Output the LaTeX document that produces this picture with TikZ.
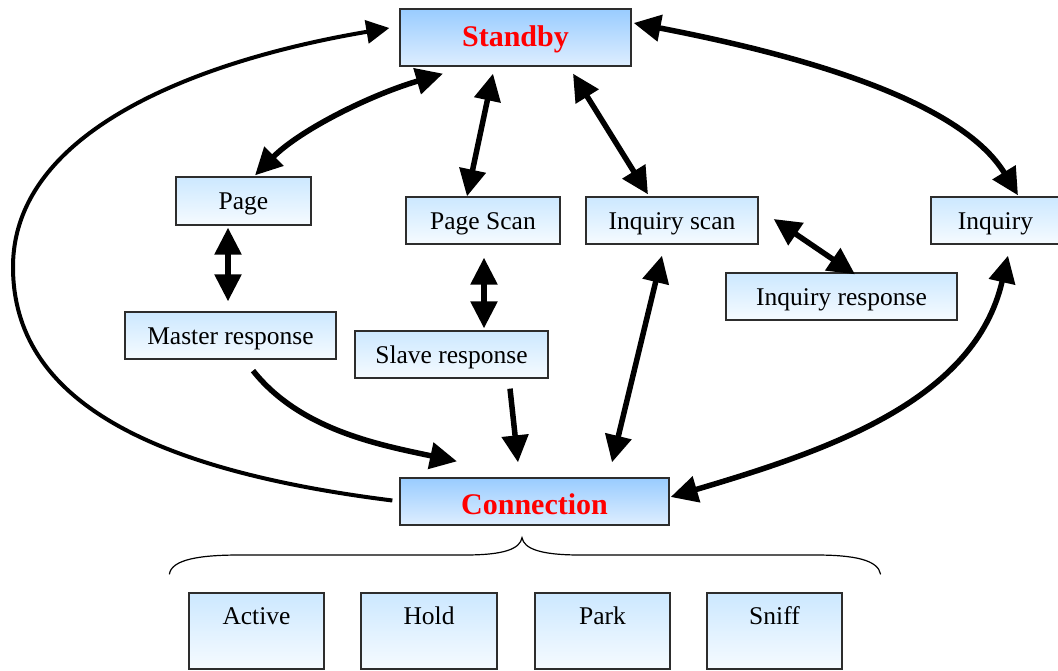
\documentclass[tikz,border=0pt]{standalone}
\usepackage{fontspec}
\setmainfont{Liberation Serif}
\usetikzlibrary{arrows.meta,calc}
\definecolor{hdtop}{RGB}{153,204,255}
\definecolor{hdbot}{RGB}{222,238,255}
\definecolor{sttop}{RGB}{204,232,255}
\definecolor{stbot}{RGB}{246,251,255}
\definecolor{edge}{RGB}{45,45,45}
\tikzset{
  statebox/.style={draw=edge, line width=1.3pt, top color=sttop, bottom color=stbot,
    inner sep=0pt, text height=18, text depth=0,
    font=\fontsize{25.5}{29}\selectfont},
  mainbox/.style={statebox, top color=hdtop, bottom color=hdbot, text height=20, text depth=2,
    font=\fontsize{30}{34}\selectfont\bfseries, text=red},
  modebox/.style={statebox, minimum height=76, text height=17, text depth=31},
  link/.style={line width=5.5pt, {Triangle[length=27pt,width=26pt]}-{Triangle[length=27pt,width=26pt]}},
  oneway/.style={line width=5.5pt, -{Triangle[length=27pt,width=26pt]}},
  brace/.style={line width=1.2pt}
}
\begin{document}
\begin{tikzpicture}[x=1pt,y=-1pt]
\useasboundingbox (0,0) rectangle (1058,671);

% states
\node[mainbox, minimum width=231, minimum height=57] (standby) at (515.5,37.5) {Standby};
\node[statebox, minimum width=135, minimum height=48] (page) at (243.5,201) {Page};
\node[statebox, minimum width=154, minimum height=47] (pagescan) at (483,220.5) {Page Scan};
\node[statebox, minimum width=172, minimum height=47] (inqscan) at (672,220.5) {Inquiry scan};
\node[statebox, minimum width=129, minimum height=47] (inquiry) at (995.5,220.5) {Inquiry};
\node[statebox, minimum width=231, minimum height=47] (inqresp) at (841.5,296.5) {Inquiry response};
\node[statebox, minimum width=211, minimum height=47] (master) at (230.5,335.5) {Master response};
\node[statebox, minimum width=193, minimum height=47] (slave) at (451.5,354.5) {Slave response};
\node[mainbox, minimum width=269, minimum height=47, text height=26, text depth=0] (connection) at (534.5,501.5) {Connection};

% connection modes
\node[modebox, minimum width=135] (active) at (256.5,631) {Active};
\node[modebox, minimum width=136] (hold) at (429,631) {Hold};
\node[modebox, minimum width=135] (park) at (602.5,631) {Park};
\node[modebox, minimum width=135] (sniff) at (774.5,631) {Sniff};

% brace grouping the modes under Connection
\coordinate (tip) at ($(connection.south)+(-12.5,12)$);
\draw[brace] ($(active.north west)+(-19,-18)$)
  .. controls +(2,-15) and (200,555) .. (240,555) -- (465,555)
  .. controls (505,555) and ($(tip)+(-2,11)$) .. (tip)
  .. controls ($(tip)+(2,11)$) and (540,555) .. (580,555) -- (815,555)
  .. controls (855,555) and (878,560) .. ($(sniff.north east)+(38,-18)$);

% transitions
\draw[link] ($(standby.south)+(-72.5,7)$) .. controls (370,95) and (300,130) .. ($(page.north)+(11.5,-1)$);
\draw[link] ($(standby.south)+(-22.5,7)$) -- ($(pagescan.north)+(-16,0)$);
\draw[link] ($(standby.south)+(57.5,7)$) -- ($(inqscan.north)+(-24,-2)$);
\draw[link] ($(standby.east)+(2,-14.5)$) .. controls (800,55) and (960,100) .. ($(inquiry.north)+(22.5,-1)$);
\draw[link] ($(page.south)+(-15.5,2)$) -- ($(master.north)+(-2.5,-10)$);
\draw[link] ($(pagescan.south)+(1,13)$) -- ($(slave.north)+(32.5,-2)$);
\draw[link] ($(inqscan.east)+(15,-1.5)$) -- ($(inqresp.north)+(13.5,2)$);
\draw[link] ($(inqscan.south)+(-10,11)$) -- ($(connection.north)+(77.5,-15)$);
\draw[link] ($(inquiry.south)+(12.5,11)$) .. controls (975,400) and (830,450) .. ($(connection.east)+(1,-4.5)$);
\draw[oneway] ($(master.south)+(22.5,11)$) .. controls (300,430) and (380,445) .. ($(connection.north)+(-77.5,-16)$);
\draw[oneway] ($(slave.south)+(58.5,10)$) -- ($(connection.north)+(-16.5,-15)$);
\draw[line width=4pt, -{Triangle[length=23pt,width=23pt]}]
  ($(connection.west)+(-7,-1)$) .. controls (150,470) and (13,400) .. (13,267)
  .. controls (13,130) and (200,60) .. ($(standby.west)+(-10,-9.5)$);
\end{tikzpicture}
\end{document}
